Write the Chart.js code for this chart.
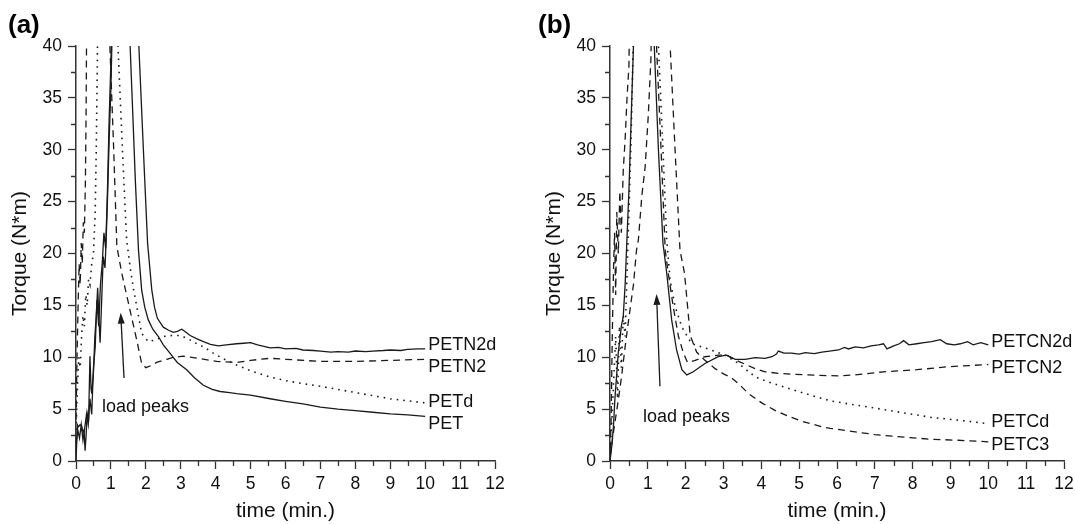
<!DOCTYPE html>
<html>
<head>
<meta charset="utf-8">
<script src="https://cdn.jsdelivr.net/npm/chart.js@4"></script>
<style>
  body { margin: 0; background: #fff; width: 1075px; height: 524px; overflow: hidden; }
  canvas { position: absolute; top: 0; }
  #chartA { left: 0; }
  #chartB { left: 530px; }
</style>
</head>
<body>
<canvas id="chartA" width="530" height="524"></canvas>
<canvas id="chartB" width="545" height="524"></canvas>
<script>
// x ticks / y ticks
const timeTicks = [0, 12, 1];
const torqueTicks = [0, 40, 5];

// ---- panel (a) ----
const seriesA = ['PETN2d', 'PETN2', 'PETd', 'PET'];
const labelAtA = [11.2, 9.1, 5.7, 3.6];

const petn2dTime = [0, 0.05, 0.1, 0.15, 0.2, 0.25, 0.3, 0.35, 0.4, 0.45, 0.5, 0.55, 0.6, 0.65, 0.7, 0.75, 0.8, 0.85, 0.9, 0.95, 1.0, 1.05, 1.4,
  1.75, 1.8, 1.93, 2.05, 2.17, 2.25, 2.33, 2.5, 2.65, 2.79, 2.9, 3.03, 3.15, 3.27, 3.45, 3.65, 3.85, 4.08, 4.3, 4.6, 4.8, 5.0, 5.2, 5.56,
  5.8, 6.0, 6.3, 6.5, 6.8, 7.0, 7.3, 7.5, 7.8, 8.0, 8.3, 8.5, 8.8, 9.0, 9.3, 9.5, 9.8, 10.0];
const petn2dTorque = [1.5, 3.0, 2.2, 3.5, 2.0, 3.2, 4.5, 3.5, 6.0, 4.5, 9.0, 11.0, 15.5, 13.0, 17.0, 19.0, 22.0, 20.5, 26.0, 33.0, 38.5, 46, 80,
  46, 40, 30, 21, 16.5, 14.8, 13.75, 12.9, 12.6, 12.4, 12.5, 12.7, 12.4, 12.1, 11.8, 11.5, 11.25, 11.1, 11.2, 11.3, 11.35, 11.4, 11.2, 10.9,
  10.95, 10.8, 10.85, 10.7, 10.65, 10.6, 10.5, 10.55, 10.5, 10.6, 10.55, 10.6, 10.65, 10.7, 10.65, 10.75, 10.8, 10.8];

const petn2Time = [0, 0.03, 0.06, 0.09, 0.12, 0.15, 0.18, 0.21, 0.24, 0.27, 0.29, 0.31, 0.6, 0.9, 0.97, 1.08, 1.17, 1.31, 1.45, 1.59, 1.75,
  1.88, 2.0, 2.15, 2.31, 2.6, 2.8, 3.07, 3.5, 4.03, 4.6, 5.0, 5.56, 6.0, 7.0, 8.0, 9.0, 10.0];
const petn2Torque = [4, 10, 15, 19, 17, 21, 19, 23, 22, 27, 34, 45, 80, 48, 40, 30, 20.7, 18.1, 16, 13.9, 11.5,
  9.4, 9.0, 9.2, 9.5, 9.8, 10.0, 10.1, 9.9, 9.6, 9.5, 9.7, 9.9, 9.8, 9.6, 9.6, 9.7, 9.8];

const petdTime = [0, 0.04, 0.08, 0.12, 0.16, 0.2, 0.24, 0.28, 0.32, 0.36, 0.4, 0.45, 0.5, 0.55, 0.58, 0.61, 0.63, 0.9, 1.15, 1.21, 1.33,
  1.45, 1.55, 1.65, 1.74, 1.88, 2.07, 2.3, 2.5, 2.75, 2.98, 3.2, 3.46, 3.7, 3.93, 4.25, 4.6, 5.0, 5.56, 6.0, 6.5, 7.0, 7.5, 8.0, 8.5,
  9.0, 9.5, 10.0];
const petdTorque = [3, 7, 10, 9, 12, 14, 13, 16, 15, 17.5, 17, 19, 20, 24, 30, 38, 46, 80, 46, 39.4, 30,
  21.3, 18.7, 16.5, 14.9, 12.3, 11.5, 11.7, 12.0, 12.1, 12.1, 11.8, 11.3, 10.9, 10.4, 9.8, 9.25, 8.7, 8.1, 7.75, 7.45, 7.2, 6.9, 6.6, 6.3,
  6.0, 5.8, 5.6];

const petTime = [0, 0.04, 0.07, 0.12, 0.16, 0.2, 0.23, 0.26, 0.29, 0.32, 0.36, 0.4, 0.43, 0.45, 0.5, 0.54, 0.58, 0.62, 0.66, 0.69, 0.73,
  0.78, 0.83, 0.86, 0.9, 0.95, 1.0, 1.06, 1.3, 1.5, 1.55, 1.62, 1.7, 1.79, 1.88, 1.97, 2.07, 2.2, 2.36, 2.5, 2.69, 2.9, 3.17, 3.4, 3.65,
  3.9, 4.13, 4.4, 4.6, 5.0, 5.56, 6.0, 6.5, 7.0, 7.5, 8.0, 8.5, 9.0, 9.5, 10.0];
const petTorque = [0, 3.5, 3.3, 3.5, 3.4, 2.8, 3.0, 1.0, 2.5, 4.6, 3.8, 10.1, 7.0, 6.5, 8.5, 12.0, 14.0, 16.7, 13.5, 11.4, 15.0,
  19.7, 18.6, 21.0, 25.0, 31.0, 36.0, 45, 75, 45, 40, 34, 27, 20.3, 16.5, 14.8, 13.6, 12.7, 12.0, 11.2, 10.4, 9.5, 8.8, 8.0, 7.3,
  6.9, 6.7, 6.6, 6.5, 6.35, 6.0, 5.75, 5.5, 5.2, 5.0, 4.85, 4.7, 4.55, 4.45, 4.3];

// ---- panel (b) ----
const seriesB = ['PETCN2d', 'PETCN2', 'PETCd', 'PETC3'];
const labelAtB = [11.5, 9.0, 3.8, 1.5];

const petcn2dTime = [0, 0.05, 0.09, 0.13, 0.18, 0.22, 0.26, 0.3, 0.35, 0.4, 0.44, 0.5, 0.56, 0.62, 0.66, 0.9, 1.12, 1.17, 1.28, 1.4,
  1.5, 1.63, 1.76, 1.9, 2.03, 2.2, 2.51, 2.86, 3.08, 3.31, 3.57, 3.84, 4.1, 4.28, 4.4, 4.45, 4.6, 4.8, 5.0, 5.16, 5.4, 5.6, 5.8, 6.04,
  6.2, 6.3, 6.48, 6.7, 6.9, 7.1, 7.23, 7.32, 7.5, 7.65, 7.76, 7.9, 8.11, 8.3, 8.5, 8.73, 8.9, 9.1, 9.26, 9.45, 9.6, 9.8, 10.0];
const petcn2dTorque = [0, 1.5, 3.3, 6, 8.5, 10.5, 11.7, 13, 13.9, 17, 20.7, 26, 33, 40, 46, 80, 46, 40, 30, 21,
  18.1, 13.6, 10.7, 8.8, 8.3, 8.6, 9.4, 10.05, 10.2, 9.8, 9.8, 9.96, 9.9, 10.05, 10.3, 10.6, 10.4, 10.4, 10.3, 10.45, 10.35, 10.5, 10.6, 10.7,
  10.95, 10.8, 11.0, 10.9, 11.1, 11.2, 11.3, 10.8, 11.1, 11.3, 11.6, 11.2, 11.3, 11.4, 11.5, 11.7, 11.3, 11.2, 11.3, 11.5, 11.2, 11.4, 11.2];

const petcn2Time = [0, 0.03, 0.06, 0.09, 0.12, 0.15, 0.18, 0.22, 0.26, 0.3, 0.35, 0.4, 0.45, 0.5, 0.53, 0.85, 1.18, 1.23, 1.35, 1.46,
  1.54, 1.67, 1.81, 1.94, 2.05, 2.25, 2.51, 2.86, 3.08, 3.4, 3.84, 4.1, 4.45, 5.16, 6.04, 6.48, 7.23, 8.11, 8.99, 9.5, 10.0];
const petcn2Torque = [0, 4, 12, 18, 22, 16, 24, 20, 26, 22, 28, 31, 35, 38, 46, 80, 46, 40, 30, 20.3,
  18.1, 14.9, 12.0, 10.4, 9.5, 9.7, 10.05, 10.2, 10.2, 9.6, 8.9, 8.6, 8.45, 8.3, 8.2, 8.3, 8.6, 8.8, 9.1, 9.2, 9.3];

const petcdTime = [0, 0.05, 0.1, 0.15, 0.2, 0.25, 0.3, 0.35, 0.4, 0.45, 0.5, 0.55, 0.6, 0.63, 0.95, 1.24, 1.28, 1.4, 1.5, 1.59,
  1.72, 1.9, 2.16, 2.51, 3.04, 3.4, 3.84, 4.28, 5.16, 5.82, 6.48, 7.0, 7.58, 8.5, 9.3, 10.0];
const petcdTorque = [1, 4, 8, 12, 6, 13, 9, 14, 12, 18, 24, 30, 38, 46, 80, 46, 40, 30, 21.3, 17.4,
  14.9, 12.9, 11.3, 10.9, 10.2, 9.4, 8.1, 7.5, 6.5, 5.8, 5.4, 5.1, 4.75, 4.2, 3.9, 3.6];

const petc3Time = [0, 0.1, 0.22, 0.3, 0.4, 0.47, 0.53, 0.62, 0.7, 0.75, 0.84, 0.93, 1.01, 1.08, 1.12, 1.35, 1.55, 1.59, 1.72, 1.85,
  1.97, 2.05, 2.12, 2.29, 2.51, 2.78, 3.0, 3.22, 3.44, 3.66, 4.01, 4.35, 4.72, 5.1, 5.6, 5.82, 6.48, 7.0, 7.58, 8.47, 9.2, 10.0];
const petc3Torque = [0.4, 3, 5.9, 8, 11, 13, 14.6, 17, 20.3, 21.3, 25.5, 28.4, 33.2, 38.6, 46, 80, 46, 40, 30, 20.3,
  18.1, 14.9, 12.1, 10.5, 9.7, 8.9, 8.4, 8.0, 7.3, 6.5, 5.6, 4.9, 4.3, 3.8, 3.3, 3.15, 2.8, 2.55, 2.35, 2.1, 2.0, 1.85];

const FONT = "'Liberation Sans', Arial, sans-serif";
const INK = '#1a1a1a';
const AXIS = '#333';
const SOLID = [], DASHED = [7, 5], DOTTED = [1.6, 5];

function pts(ts, vs) {
  return ts.map((t, i) => ({ x: t, y: vs[i] }));
}

function line(label, ts, vs, dash) {
  return {
    label: label,
    data: pts(ts, vs),
    borderColor: INK,
    borderWidth: dash === DOTTED ? 1.6 : 1.3,
    borderDash: dash,
    pointRadius: 0,
    tension: 0,
    fill: false
  };
}

// axis decorations, curve names, arrow
const panelDecor = {
  id: 'panelDecor',
  afterDraw(chart, args, o) {
    const { ctx, chartArea } = chart;
    const xs = chart.scales.x, ys = chart.scales.y;
    ctx.save();
    ctx.strokeStyle = AXIS;
    ctx.lineWidth = 1.3;
    ctx.beginPath();
    for (let v = 0.5; v < timeTicks[1]; v += 1) {
      const px = Math.round(xs.getPixelForValue(v)) + 0.5;
      ctx.moveTo(px, chartArea.bottom);
      ctx.lineTo(px, chartArea.bottom + 5);
    }
    for (let v = 2.5; v < torqueTicks[1]; v += 5) {
      const py = Math.round(ys.getPixelForValue(v)) + 0.5;
      ctx.moveTo(chartArea.left, py);
      ctx.lineTo(chartArea.left - 5, py);
    }
    ctx.stroke();

    ctx.fillStyle = '#111';
    ctx.font = '18px ' + FONT;
    ctx.textBaseline = 'middle';
    ctx.textAlign = 'left';
    o.names.forEach((n, i) => {
      ctx.fillText(n, xs.getPixelForValue(10) + 3, ys.getPixelForValue(o.labelAt[i]));
    });
    ctx.fillText('load peaks', xs.getPixelForValue(o.noteAt[0]), ys.getPixelForValue(o.noteAt[1]));

    // arrow
    const x0 = xs.getPixelForValue(o.arrowFrom[0]), y0 = ys.getPixelForValue(o.arrowFrom[1]);
    const x1 = xs.getPixelForValue(o.arrowTo[0]), y1 = ys.getPixelForValue(o.arrowTo[1]);
    const ang = Math.atan2(y1 - y0, x1 - x0);
    ctx.strokeStyle = INK;
    ctx.lineWidth = 1.3;
    ctx.beginPath();
    ctx.moveTo(x0, y0);
    ctx.lineTo(x1 - 8 * Math.cos(ang), y1 - 8 * Math.sin(ang));
    ctx.stroke();
    ctx.beginPath();
    ctx.moveTo(x1, y1);
    ctx.lineTo(x1 - 11 * Math.cos(ang) + 3.5 * Math.sin(ang), y1 - 11 * Math.sin(ang) - 3.5 * Math.cos(ang));
    ctx.lineTo(x1 - 11 * Math.cos(ang) - 3.5 * Math.sin(ang), y1 - 11 * Math.sin(ang) + 3.5 * Math.cos(ang));
    ctx.closePath();
    ctx.fillStyle = INK;
    ctx.fill();

    // panel letter
    ctx.font = 'bold 26px ' + FONT;
    ctx.fillStyle = '#000';
    ctx.fillText(o.letter, 8, 26);
    ctx.restore();
  }
};

function makeOptions(yWidth, padRight, titlePad, decor) {
  const axisFont = { family: FONT, size: 17.5 };
  return {
    responsive: false,
    animation: false,
    layout: { padding: { top: 46, right: padRight, left: 0, bottom: 0 } },
    plugins: {
      legend: { display: false },
      tooltip: { enabled: false },
      panelDecor: decor
    },
    scales: {
      x: {
        type: 'linear',
        min: timeTicks[0], max: timeTicks[1],
        ticks: { stepSize: timeTicks[2], color: '#111', font: axisFont, padding: 5 },
        grid: { drawOnChartArea: false, drawTicks: true, tickLength: 8, tickColor: AXIS, tickWidth: 1.3 },
        border: { display: true, color: AXIS, width: 1.5 },
        title: { display: true, text: 'time (min.)', color: '#111', font: { family: FONT, size: 21 }, padding: 0 },
        afterFit(s) { s.height = 63; s.paddingLeft = 0; s.paddingRight = 0; }
      },
      y: {
        min: torqueTicks[0], max: torqueTicks[1],
        ticks: { stepSize: torqueTicks[2], color: '#111', font: axisFont, padding: 6 },
        grid: { drawOnChartArea: false, drawTicks: true, tickLength: 8, tickColor: AXIS, tickWidth: 1.3 },
        border: { display: true, color: AXIS, width: 1.5 },
        title: { display: true, text: 'Torque (N*m)', color: '#111', font: { family: FONT, size: 21 }, padding: { top: titlePad, bottom: 0 } },
        afterFit(s) { s.width = yWidth; s.paddingTop = 0; s.paddingBottom = 0; }
      }
    }
  };
}

new Chart(document.getElementById('chartA'), {
  type: 'line',
  data: {
    datasets: [
      line(seriesA[0], petn2dTime, petn2dTorque, SOLID),
      line(seriesA[1], petn2Time, petn2Torque, DASHED),
      line(seriesA[2], petdTime, petdTorque, DOTTED),
      line(seriesA[3], petTime, petTorque, SOLID)
    ]
  },
  options: makeOptions(76, 35, 8, {
    names: seriesA, labelAt: labelAtA, noteAt: [0.745, 5.2],
    arrowFrom: [1.375, 8.0], arrowTo: [1.28, 14.3], letter: '(a)'
  }),
  plugins: [panelDecor]
});

new Chart(document.getElementById('chartB'), {
  type: 'line',
  data: {
    datasets: [
      line(seriesB[0], petcn2dTime, petcn2dTorque, SOLID),
      line(seriesB[1], petcn2Time, petcn2Torque, DASHED),
      line(seriesB[2], petcdTime, petcdTorque, DOTTED),
      line(seriesB[3], petc3Time, petc3Torque, DASHED)
    ]
  },
  options: makeOptions(80, 11, 12, {
    names: seriesB, labelAt: labelAtB, noteAt: [0.87, 4.27],
    arrowFrom: [1.32, 7.2], arrowTo: [1.23, 16.1], letter: '(b)'
  }),
  plugins: [panelDecor]
});
</script>
</body>
</html>
